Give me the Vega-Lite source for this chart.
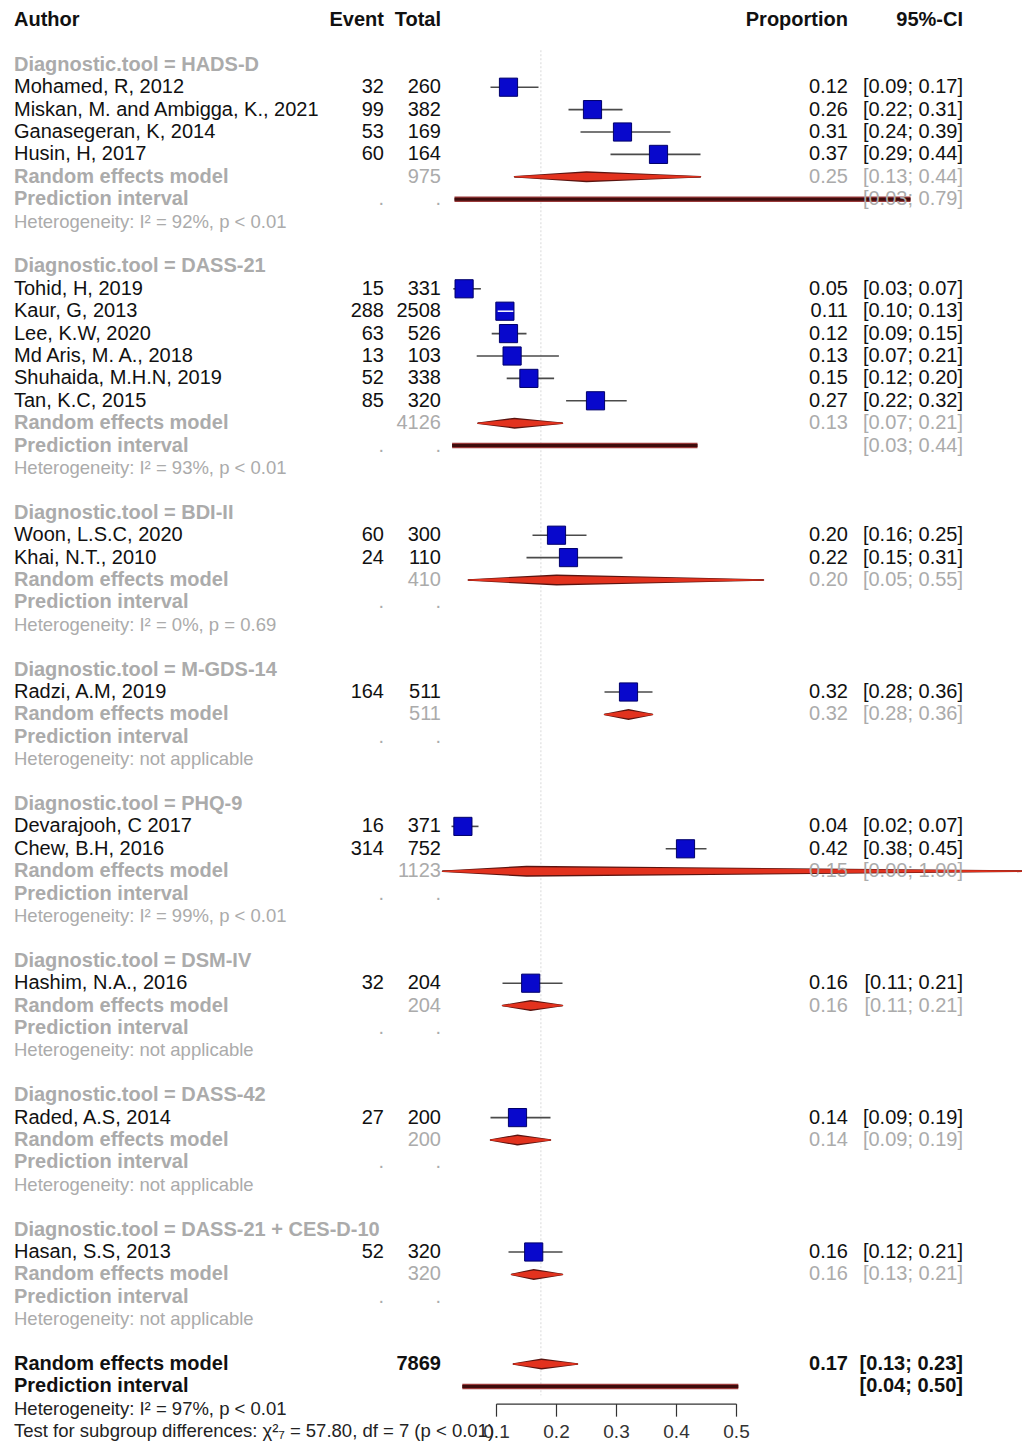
{
  "$schema": "https://vega.github.io/schema/vega-lite/v6.json",
  "width": 1022,
  "height": 1443,
  "padding": 0,
  "autosize": {"type": "none"},
  "background": "white",
  "config": {"view": {"stroke": null}, "text": {"font": "Liberation Sans"}},
  "data": {"values": [
    {"r": 0, "kind": "colhead", "label": "Author", "event": "Event", "total": "Total", "prop": "Proportion", "ci": "95%-CI"},
    {"r": 2, "kind": "group", "label": "Diagnostic.tool = HADS-D"},
    {"r": 3, "kind": "study", "label": "Mohamed, R, 2012", "event": "32", "total": "260", "prop": "0.12", "ci": "[0.09; 0.17]", "est": 0.12, "lo": 0.09, "hi": 0.17},
    {"r": 4, "kind": "study", "label": "Miskan, M. and Ambigga, K., 2021", "event": "99", "total": "382", "prop": "0.26", "ci": "[0.22; 0.31]", "est": 0.26, "lo": 0.22, "hi": 0.31},
    {"r": 5, "kind": "study", "label": "Ganasegeran, K,  2014", "event": "53", "total": "169", "prop": "0.31", "ci": "[0.24; 0.39]", "est": 0.31, "lo": 0.24, "hi": 0.39},
    {"r": 6, "kind": "study", "label": "Husin, H, 2017", "event": "60", "total": "164", "prop": "0.37", "ci": "[0.29; 0.44]", "est": 0.37, "lo": 0.29, "hi": 0.44},
    {"r": 7, "kind": "subre", "label": "Random effects model", "total": "975", "prop": "0.25", "ci": "[0.13; 0.44]", "est": 0.25, "lo": 0.13, "hi": 0.44},
    {"r": 8, "kind": "subpi", "label": "Prediction interval", "event": ".", "total": ".", "ci": "[0.03; 0.79]", "lo": 0.03, "hi": 0.79},
    {"r": 9, "kind": "het", "label": "Heterogeneity: I² = 92%, p < 0.01"},
    {"r": 11, "kind": "group", "label": "Diagnostic.tool = DASS-21"},
    {"r": 12, "kind": "study", "label": "Tohid, H, 2019", "event": "15", "total": "331", "prop": "0.05", "ci": "[0.03; 0.07]", "est": 0.046, "lo": 0.028, "hi": 0.074},
    {"r": 13, "kind": "study", "label": "Kaur, G, 2013", "event": "288", "total": "2508", "prop": "0.11", "ci": "[0.10; 0.13]", "est": 0.114, "lo": 0.102, "hi": 0.128},
    {"r": 14, "kind": "study", "label": "Lee, K.W, 2020", "event": "63", "total": "526", "prop": "0.12", "ci": "[0.09; 0.15]", "est": 0.12, "lo": 0.092, "hi": 0.15},
    {"r": 15, "kind": "study", "label": "Md Aris, M. A., 2018", "event": "13", "total": "103", "prop": "0.13", "ci": "[0.07; 0.21]", "est": 0.126, "lo": 0.067, "hi": 0.204},
    {"r": 16, "kind": "study", "label": "Shuhaida, M.H.N, 2019", "event": "52", "total": "338", "prop": "0.15", "ci": "[0.12; 0.20]", "est": 0.154, "lo": 0.117, "hi": 0.196},
    {"r": 17, "kind": "study", "label": "Tan, K.C, 2015", "event": "85", "total": "320", "prop": "0.27", "ci": "[0.22; 0.32]", "est": 0.265, "lo": 0.216, "hi": 0.317},
    {"r": 18, "kind": "subre", "label": "Random effects model", "total": "4126", "prop": "0.13", "ci": "[0.07; 0.21]", "est": 0.13, "lo": 0.069, "hi": 0.21},
    {"r": 19, "kind": "subpi", "label": "Prediction interval", "event": ".", "total": ".", "ci": "[0.03; 0.44]", "lo": 0.026, "hi": 0.435},
    {"r": 20, "kind": "het", "label": "Heterogeneity: I² = 93%, p < 0.01"},
    {"r": 22, "kind": "group", "label": "Diagnostic.tool = BDI-II"},
    {"r": 23, "kind": "study", "label": "Woon, L.S.C, 2020", "event": "60", "total": "300", "prop": "0.20", "ci": "[0.16; 0.25]", "est": 0.2, "lo": 0.16, "hi": 0.25},
    {"r": 24, "kind": "study", "label": "Khai, N.T., 2010", "event": "24", "total": "110", "prop": "0.22", "ci": "[0.15; 0.31]", "est": 0.22, "lo": 0.15, "hi": 0.31},
    {"r": 25, "kind": "subre", "label": "Random effects model", "total": "410", "prop": "0.20", "ci": "[0.05; 0.55]", "est": 0.2, "lo": 0.053, "hi": 0.545},
    {"r": 26, "kind": "subpi", "label": "Prediction interval", "event": ".", "total": "."},
    {"r": 27, "kind": "het", "label": "Heterogeneity: I² = 0%, p = 0.69"},
    {"r": 29, "kind": "group", "label": "Diagnostic.tool = M-GDS-14"},
    {"r": 30, "kind": "study", "label": "Radzi, A.M, 2019", "event": "164", "total": "511", "prop": "0.32", "ci": "[0.28; 0.36]", "est": 0.32, "lo": 0.28, "hi": 0.36},
    {"r": 31, "kind": "subre", "label": "Random effects model", "total": "511", "prop": "0.32", "ci": "[0.28; 0.36]", "est": 0.32, "lo": 0.28, "hi": 0.36},
    {"r": 32, "kind": "subpi", "label": "Prediction interval", "event": ".", "total": "."},
    {"r": 33, "kind": "het", "label": "Heterogeneity: not applicable"},
    {"r": 35, "kind": "group", "label": "Diagnostic.tool = PHQ-9"},
    {"r": 36, "kind": "study", "label": "Devarajooh, C  2017", "event": "16", "total": "371", "prop": "0.04", "ci": "[0.02; 0.07]", "est": 0.044, "lo": 0.025, "hi": 0.07},
    {"r": 37, "kind": "study", "label": "Chew, B.H, 2016", "event": "314", "total": "752", "prop": "0.42", "ci": "[0.38; 0.45]", "est": 0.415, "lo": 0.382, "hi": 0.45},
    {"r": 38, "kind": "subre", "label": "Random effects model", "total": "1123", "prop": "0.15", "ci": "[0.00; 1.00]", "est": 0.15, "lo": 0.01, "hi": 1.0},
    {"r": 39, "kind": "subpi", "label": "Prediction interval", "event": ".", "total": "."},
    {"r": 40, "kind": "het", "label": "Heterogeneity: I² = 99%, p < 0.01"},
    {"r": 42, "kind": "group", "label": "Diagnostic.tool = DSM-IV"},
    {"r": 43, "kind": "study", "label": "Hashim, N.A., 2016", "event": "32", "total": "204", "prop": "0.16", "ci": "[0.11; 0.21]", "est": 0.157, "lo": 0.11, "hi": 0.21},
    {"r": 44, "kind": "subre", "label": "Random effects model", "total": "204", "prop": "0.16", "ci": "[0.11; 0.21]", "est": 0.157, "lo": 0.11, "hi": 0.21},
    {"r": 45, "kind": "subpi", "label": "Prediction interval", "event": ".", "total": "."},
    {"r": 46, "kind": "het", "label": "Heterogeneity: not applicable"},
    {"r": 48, "kind": "group", "label": "Diagnostic.tool = DASS-42"},
    {"r": 49, "kind": "study", "label": "Raded, A.S, 2014", "event": "27", "total": "200", "prop": "0.14", "ci": "[0.09; 0.19]", "est": 0.135, "lo": 0.09, "hi": 0.19},
    {"r": 50, "kind": "subre", "label": "Random effects model", "total": "200", "prop": "0.14", "ci": "[0.09; 0.19]", "est": 0.135, "lo": 0.09, "hi": 0.19},
    {"r": 51, "kind": "subpi", "label": "Prediction interval", "event": ".", "total": "."},
    {"r": 52, "kind": "het", "label": "Heterogeneity: not applicable"},
    {"r": 54, "kind": "group", "label": "Diagnostic.tool = DASS-21 + CES-D-10"},
    {"r": 55, "kind": "study", "label": "Hasan, S.S, 2013", "event": "52", "total": "320", "prop": "0.16", "ci": "[0.12; 0.21]", "est": 0.162, "lo": 0.12, "hi": 0.21},
    {"r": 56, "kind": "subre", "label": "Random effects model", "total": "320", "prop": "0.16", "ci": "[0.13; 0.21]", "est": 0.162, "lo": 0.125, "hi": 0.21},
    {"r": 57, "kind": "subpi", "label": "Prediction interval", "event": ".", "total": "."},
    {"r": 58, "kind": "het", "label": "Heterogeneity: not applicable"},
    {"r": 60, "kind": "overall", "label": "Random effects model", "total": "7869", "prop": "0.17", "ci": "[0.13; 0.23]", "est": 0.175, "lo": 0.128, "hi": 0.235},
    {"r": 61, "kind": "overallpi", "label": "Prediction interval", "ci": "[0.04; 0.50]", "lo": 0.043, "hi": 0.503},
    {"r": 62, "kind": "overallhet", "label": "Heterogeneity: I² = 97%, p < 0.01"},
    {"r": 63, "kind": "test", "label": "Test for subgroup differences: χ²₇ = 57.80, df = 7 (p < 0.01)"}
  ]},
  "encoding": {
    "y": {"field": "r", "type": "quantitative", "scale": {"domain": [-0.893, 63.527], "reverse": true, "nice": false, "zero": false}, "axis": null}
  },
  "layer": [
    {
      "data": {"values": [{"x": 0.174, "ya": 1.35, "yb": 61.4}]},
      "mark": {"type": "rule", "color": "#d8d8d8", "strokeWidth": 1, "strokeDash": [2, 2]},
      "encoding": {
        "x": {"field": "x", "type": "quantitative", "scale": {"domain": [-0.7275, 0.97583], "nice": false, "zero": false}, "axis": null},
        "y": {"field": "ya", "type": "quantitative", "scale": {"domain": [-0.893, 63.527], "reverse": true, "nice": false, "zero": false}, "axis": null},
        "y2": {"field": "yb"}
      }
    },
    {
      "transform": [{"filter": "datum.kind == 'study'"}],
      "mark": {"type": "rule", "color": "#4a4a4a", "strokeWidth": 1.6},
      "encoding": {
        "x": {"field": "lo", "type": "quantitative", "scale": {"domain": [-0.7275, 0.97583], "nice": false, "zero": false}, "axis": null},
        "x2": {"field": "hi"}
      }
    },
    {
      "transform": [{"filter": "datum.kind == 'study'"}],
      "mark": {"type": "square", "size": 330, "filled": true, "fill": "#0808cc", "stroke": "#00006a", "strokeWidth": 1, "opacity": 1},
      "encoding": {
        "x": {"field": "est", "type": "quantitative", "scale": {"domain": [-0.7275, 0.97583], "nice": false, "zero": false}, "axis": null}
      }
    },
    {
      "transform": [{"filter": "datum.label == 'Kaur, G, 2013'"}],
      "mark": {"type": "rule", "color": "#ffffff", "strokeWidth": 1.5},
      "encoding": {
        "x": {"field": "lo", "type": "quantitative", "scale": {"domain": [-0.7275, 0.97583], "nice": false, "zero": false}, "axis": null},
        "x2": {"field": "hi"}
      }
    },
    {
      "transform": [{"filter": "datum.kind == 'subre' || datum.kind == 'overall'"}],
      "mark": {"type": "rule", "color": "#222222", "strokeWidth": 1.3, "clip": true},
      "encoding": {
        "x": {"field": "lo", "type": "quantitative", "scale": {"domain": [-0.7275, 0.97583], "nice": false, "zero": false}, "axis": null},
        "x2": {"field": "hi"}
      }
    },
    {
      "transform": [
        {"filter": "datum.kind == 'subre' || datum.kind == 'overall'"},
        {"fold": ["lo", "est", "hi"], "as": ["pt", "xv"]}
      ],
      "mark": {"type": "trail", "color": "#5a1410", "clip": true},
      "encoding": {
        "x": {"field": "xv", "type": "quantitative", "scale": {"domain": [-0.7275, 0.97583], "nice": false, "zero": false}, "axis": null},
        "detail": {"field": "r", "type": "nominal"},
        "size": {"condition": {"test": "datum.pt == 'est'", "value": 11}, "value": 1.5}
      }
    },
    {
      "transform": [
        {"filter": "datum.kind == 'subre' || datum.kind == 'overall'"},
        {"fold": ["lo", "est", "hi"], "as": ["pt", "xv"]}
      ],
      "mark": {"type": "trail", "color": "#e2321e", "clip": true},
      "encoding": {
        "x": {"field": "xv", "type": "quantitative", "scale": {"domain": [-0.7275, 0.97583], "nice": false, "zero": false}, "axis": null},
        "detail": {"field": "r", "type": "nominal"},
        "size": {"condition": {"test": "datum.pt == 'est'", "value": 8}, "value": 0}
      }
    },
    {
      "transform": [{"filter": "(datum.kind == 'subpi' || datum.kind == 'overallpi') && isValid(datum.lo)"}],
      "mark": {"type": "rule", "color": "#9a3a3a", "strokeWidth": 5.5},
      "encoding": {
        "x": {"field": "lo", "type": "quantitative", "scale": {"domain": [-0.7275, 0.97583], "nice": false, "zero": false}, "axis": null},
        "x2": {"field": "hi"}
      }
    },
    {
      "transform": [{"filter": "(datum.kind == 'subpi' || datum.kind == 'overallpi') && isValid(datum.lo)"}],
      "mark": {"type": "rule", "color": "#3e0c0c", "strokeWidth": 3},
      "encoding": {
        "x": {"field": "lo", "type": "quantitative", "scale": {"domain": [-0.7275, 0.97583], "nice": false, "zero": false}, "axis": null},
        "x2": {"field": "hi"}
      }
    },
    {
      "data": {"values": [{"a": 0.1, "b": 0.5, "ya": 61.79}]},
      "mark": {"type": "rule", "color": "#333333", "strokeWidth": 1.2},
      "encoding": {
        "x": {"field": "a", "type": "quantitative", "scale": {"domain": [-0.7275, 0.97583], "nice": false, "zero": false}, "axis": null},
        "x2": {"field": "b"},
        "y": {"field": "ya", "type": "quantitative", "scale": {"domain": [-0.893, 63.527], "reverse": true, "nice": false, "zero": false}, "axis": null}
      }
    },
    {
      "data": {"values": [
        {"v": 0.1, "t": "0.1", "ya": 61.79, "yb": 62.35, "yl": 63.05},
        {"v": 0.2, "t": "0.2", "ya": 61.79, "yb": 62.35, "yl": 63.05},
        {"v": 0.3, "t": "0.3", "ya": 61.79, "yb": 62.35, "yl": 63.05},
        {"v": 0.4, "t": "0.4", "ya": 61.79, "yb": 62.35, "yl": 63.05},
        {"v": 0.5, "t": "0.5", "ya": 61.79, "yb": 62.35, "yl": 63.05}
      ]},
      "layer": [
        {
          "mark": {"type": "rule", "color": "#333333", "strokeWidth": 1.2},
          "encoding": {
            "x": {"field": "v", "type": "quantitative", "scale": {"domain": [-0.7275, 0.97583], "nice": false, "zero": false}, "axis": null},
            "y": {"field": "ya", "type": "quantitative", "scale": {"domain": [-0.893, 63.527], "reverse": true, "nice": false, "zero": false}, "axis": null},
            "y2": {"field": "yb"}
          }
        },
        {
          "mark": {"type": "text", "font": "Liberation Sans", "fontSize": 19, "color": "#333333", "align": "center", "baseline": "middle"},
          "encoding": {
            "x": {"field": "v", "type": "quantitative", "scale": {"domain": [-0.7275, 0.97583], "nice": false, "zero": false}, "axis": null},
            "y": {"field": "yl", "type": "quantitative", "scale": {"domain": [-0.893, 63.527], "reverse": true, "nice": false, "zero": false}, "axis": null},
            "text": {"field": "t"}
          }
        }
      ]
    },
    {
      "mark": {"type": "text", "font": "Liberation Sans", "align": "left", "baseline": "middle",
               "fontWeight": {"expr": "indexof(['colhead','group','subre','subpi','overall','overallpi'], datum.kind) >= 0 ? 'bold' : 'normal'"}},
      "encoding": {
        "x": {"value": 14},
        "text": {"field": "label"},
        "color": {"field": "kind", "type": "nominal", "legend": null,
                  "scale": {"domain": ["colhead", "group", "study", "subre", "subpi", "het", "overall", "overallpi", "overallhet", "test"],
                            "range": ["#111111", "#ababab", "#111111", "#ababab", "#ababab", "#ababab", "#111111", "#111111", "#222222", "#222222"]}},
        "size": {"condition": {"test": "indexof(['het','overallhet','test'], datum.kind) >= 0", "value": 18.5}, "value": 20}
      }
    },
    {
      "transform": [{"filter": "isValid(datum.event)"}],
      "mark": {"type": "text", "font": "Liberation Sans", "align": "right", "baseline": "middle", "fontSize": 20,
               "fontWeight": {"expr": "indexof(['colhead','overall','overallpi'], datum.kind) >= 0 ? 'bold' : 'normal'"}},
      "encoding": {
        "x": {"value": 384},
        "text": {"field": "event"},
        "color": {"field": "kind", "type": "nominal", "legend": null}
      }
    },
    {
      "transform": [{"filter": "isValid(datum.total)"}],
      "mark": {"type": "text", "font": "Liberation Sans", "align": "right", "baseline": "middle", "fontSize": 20,
               "fontWeight": {"expr": "indexof(['colhead','overall','overallpi'], datum.kind) >= 0 ? 'bold' : 'normal'"}},
      "encoding": {
        "x": {"value": 441},
        "text": {"field": "total"},
        "color": {"field": "kind", "type": "nominal", "legend": null}
      }
    },
    {
      "transform": [{"filter": "isValid(datum.prop)"}],
      "mark": {"type": "text", "font": "Liberation Sans", "align": "right", "baseline": "middle", "fontSize": 20,
               "fontWeight": {"expr": "indexof(['colhead','overall','overallpi'], datum.kind) >= 0 ? 'bold' : 'normal'"}},
      "encoding": {
        "x": {"value": 848},
        "text": {"field": "prop"},
        "color": {"field": "kind", "type": "nominal", "legend": null}
      }
    },
    {
      "transform": [{"filter": "isValid(datum.ci)"}],
      "mark": {"type": "text", "font": "Liberation Sans", "align": "right", "baseline": "middle", "fontSize": 20,
               "fontWeight": {"expr": "indexof(['colhead','overall','overallpi'], datum.kind) >= 0 ? 'bold' : 'normal'"}},
      "encoding": {
        "x": {"value": 963},
        "text": {"field": "ci"},
        "color": {"field": "kind", "type": "nominal", "legend": null}
      }
    }
  ]
}
